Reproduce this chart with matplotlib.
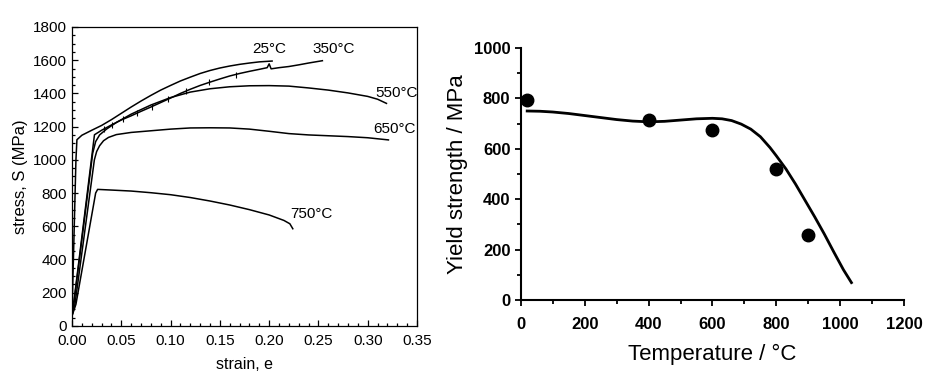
import matplotlib
matplotlib.use('Agg')
import matplotlib.pyplot as plt
from matplotlib.ticker import MultipleLocator

plt.rcParams['font.family'] = ['Liberation Sans', 'DejaVu Sans']

# left panel: stress-strain curves
strain_25 = [0.0, 0.001, 0.004, 0.005, 0.01, 0.02, 0.03, 0.04, 0.05, 0.06, 0.07, 0.08, 0.09, 0.10,
             0.11, 0.12, 0.13, 0.14, 0.15, 0.16, 0.17, 0.18, 0.19, 0.203]
stress_25 = [60, 300, 1000, 1121, 1148, 1178, 1207, 1242, 1280, 1318, 1354, 1388, 1420, 1448,
             1475, 1498, 1520, 1538, 1553, 1565, 1575, 1583, 1590, 1595]

strain_350 = [0.0, 0.002, 0.0228, 0.03, 0.04, 0.05, 0.06, 0.07, 0.08, 0.09, 0.10, 0.11, 0.12, 0.13,
              0.14, 0.15, 0.16, 0.17, 0.18, 0.19, 0.198, 0.2, 0.202, 0.21, 0.22, 0.23, 0.24, 0.254]
stress_350 = [60, 150, 1151, 1178, 1210, 1240, 1265, 1292, 1318, 1345, 1372, 1400, 1425, 1448,
              1468, 1487, 1505, 1520, 1533, 1545, 1555, 1578, 1548, 1555, 1562, 1572, 1583, 1597]
serration_strain = [0.032, 0.041, 0.052, 0.066, 0.081, 0.097, 0.116, 0.139, 0.166]
serration_stress = [1184, 1212, 1245, 1281, 1321, 1366, 1415, 1466, 1513]

strain_550 = [0.0, 0.002, 0.021, 0.024, 0.028, 0.035, 0.045, 0.06, 0.08, 0.10, 0.12, 0.14, 0.16,
              0.18, 0.20, 0.22, 0.24, 0.26, 0.28, 0.30, 0.31, 0.319]
stress_550 = [60, 140, 1040, 1110, 1150, 1185, 1225, 1275, 1330, 1375, 1408, 1428, 1440,
              1446, 1447, 1444, 1433, 1420, 1403, 1382, 1365, 1340]

strain_650 = [0.0, 0.003, 0.0227, 0.025, 0.028, 0.032, 0.037, 0.045, 0.06, 0.08, 0.10, 0.12, 0.14,
              0.16, 0.18, 0.20, 0.22, 0.24, 0.26, 0.28, 0.30, 0.321]
stress_650 = [60, 130, 1000, 1050, 1085, 1115, 1135, 1152, 1165, 1175, 1185, 1192, 1193,
              1192, 1185, 1172, 1158, 1150, 1145, 1140, 1133, 1120]

strain_750 = [0.0, 0.004, 0.024, 0.026, 0.04, 0.06, 0.08, 0.10, 0.12, 0.14, 0.16, 0.18, 0.20,
              0.215, 0.221, 0.224]
stress_750 = [60, 130, 800, 822, 818, 812, 802, 790, 773, 752, 728, 700, 668,
              635, 615, 585]

curve_labels = ['25°C', '350°C', '550°C', '650°C', '750°C']

# right panel: yield strength vs temperature
temp_pts = [20, 400, 600, 800, 900]
ys_pts = [792, 716, 676, 519, 258]

temp_fit = [20, 60, 100, 150, 200, 250, 300, 350, 400, 450, 500, 550, 600, 630, 660, 690, 720,
            750, 780, 800, 830, 860, 890, 920, 950, 980, 1010, 1035]
ys_fit = [750, 749, 746, 740, 732, 724, 716, 710, 707, 709, 714, 719, 721, 719, 712, 698, 678,
          648, 605, 572, 520, 460, 395, 330, 262, 190, 120, 69]

fig = plt.figure(figsize=(9.35, 3.75), dpi=100)

ax1 = fig.add_axes([0.077, 0.131, 0.369, 0.797])
for xs, ys in [(strain_25, stress_25), (strain_350, stress_350), (strain_550, stress_550),
               (strain_650, stress_650), (strain_750, stress_750)]:
    ax1.plot(xs, ys, color='black', lw=1.1)
ax1.plot(serration_strain, serration_stress, ls='none', marker='|', ms=5, color='black', mew=0.8)

ax1.set_xlim(0, 0.35)
ax1.set_ylim(0, 1800)
ax1.xaxis.set_major_locator(MultipleLocator(0.05))
ax1.xaxis.set_minor_locator(MultipleLocator(0.01))
ax1.yaxis.set_major_locator(MultipleLocator(200))
ax1.yaxis.set_minor_locator(MultipleLocator(50))
ax1.xaxis.set_major_formatter(plt.FormatStrFormatter('%.2f'))
ax1.tick_params(which='both', direction='in', labelsize=11, width=0.9)
ax1.tick_params(which='major', length=4)
ax1.tick_params(which='minor', length=2.5)
ax1.tick_params(axis='x', pad=6)
ax1.set_xlabel('strain, e', fontsize=11.5, labelpad=6)
ax1.set_ylabel('stress, S (MPa)', fontsize=12)
for s in ax1.spines.values():
    s.set_linewidth(0.9)

ax1.text(0.200, 1625, curve_labels[0], fontsize=11, ha='center', va='bottom')
ax1.text(0.265, 1625, curve_labels[1], fontsize=11, ha='center', va='bottom')
ax1.text(0.329, 1400, curve_labels[2], fontsize=11, ha='center', va='center')
ax1.text(0.327, 1185, curve_labels[3], fontsize=11, ha='center', va='center')
ax1.text(0.243, 673, curve_labels[4], fontsize=11, ha='center', va='center')

ax2 = fig.add_axes([0.557, 0.2, 0.41, 0.672])
ax2.plot(temp_fit, ys_fit, color='black', lw=2)
ax2.plot(temp_pts, ys_pts, 'o', color='black', ms=9)
ax2.set_xlim(0, 1200)
ax2.set_ylim(0, 1000)
ax2.xaxis.set_major_locator(MultipleLocator(200))
ax2.xaxis.set_minor_locator(MultipleLocator(100))
ax2.yaxis.set_major_locator(MultipleLocator(200))
ax2.yaxis.set_minor_locator(MultipleLocator(100))
ax2.spines['top'].set_visible(False)
ax2.spines['right'].set_visible(False)
ax2.spines['left'].set_linewidth(1.5)
ax2.spines['bottom'].set_linewidth(1.5)
ax2.tick_params(which='both', direction='out', width=1.3, labelsize=12)
ax2.tick_params(which='major', length=4)
ax2.tick_params(which='minor', length=3)
ax2.tick_params(axis='x', pad=8)
for lab in ax2.get_xticklabels() + ax2.get_yticklabels():
    lab.set_fontweight('bold')
ax2.set_xlabel('Temperature / °C', fontsize=16, labelpad=9)
ax2.set_ylabel('Yield strength / MPa', fontsize=16)

fig.savefig('out.png', dpi=100)
